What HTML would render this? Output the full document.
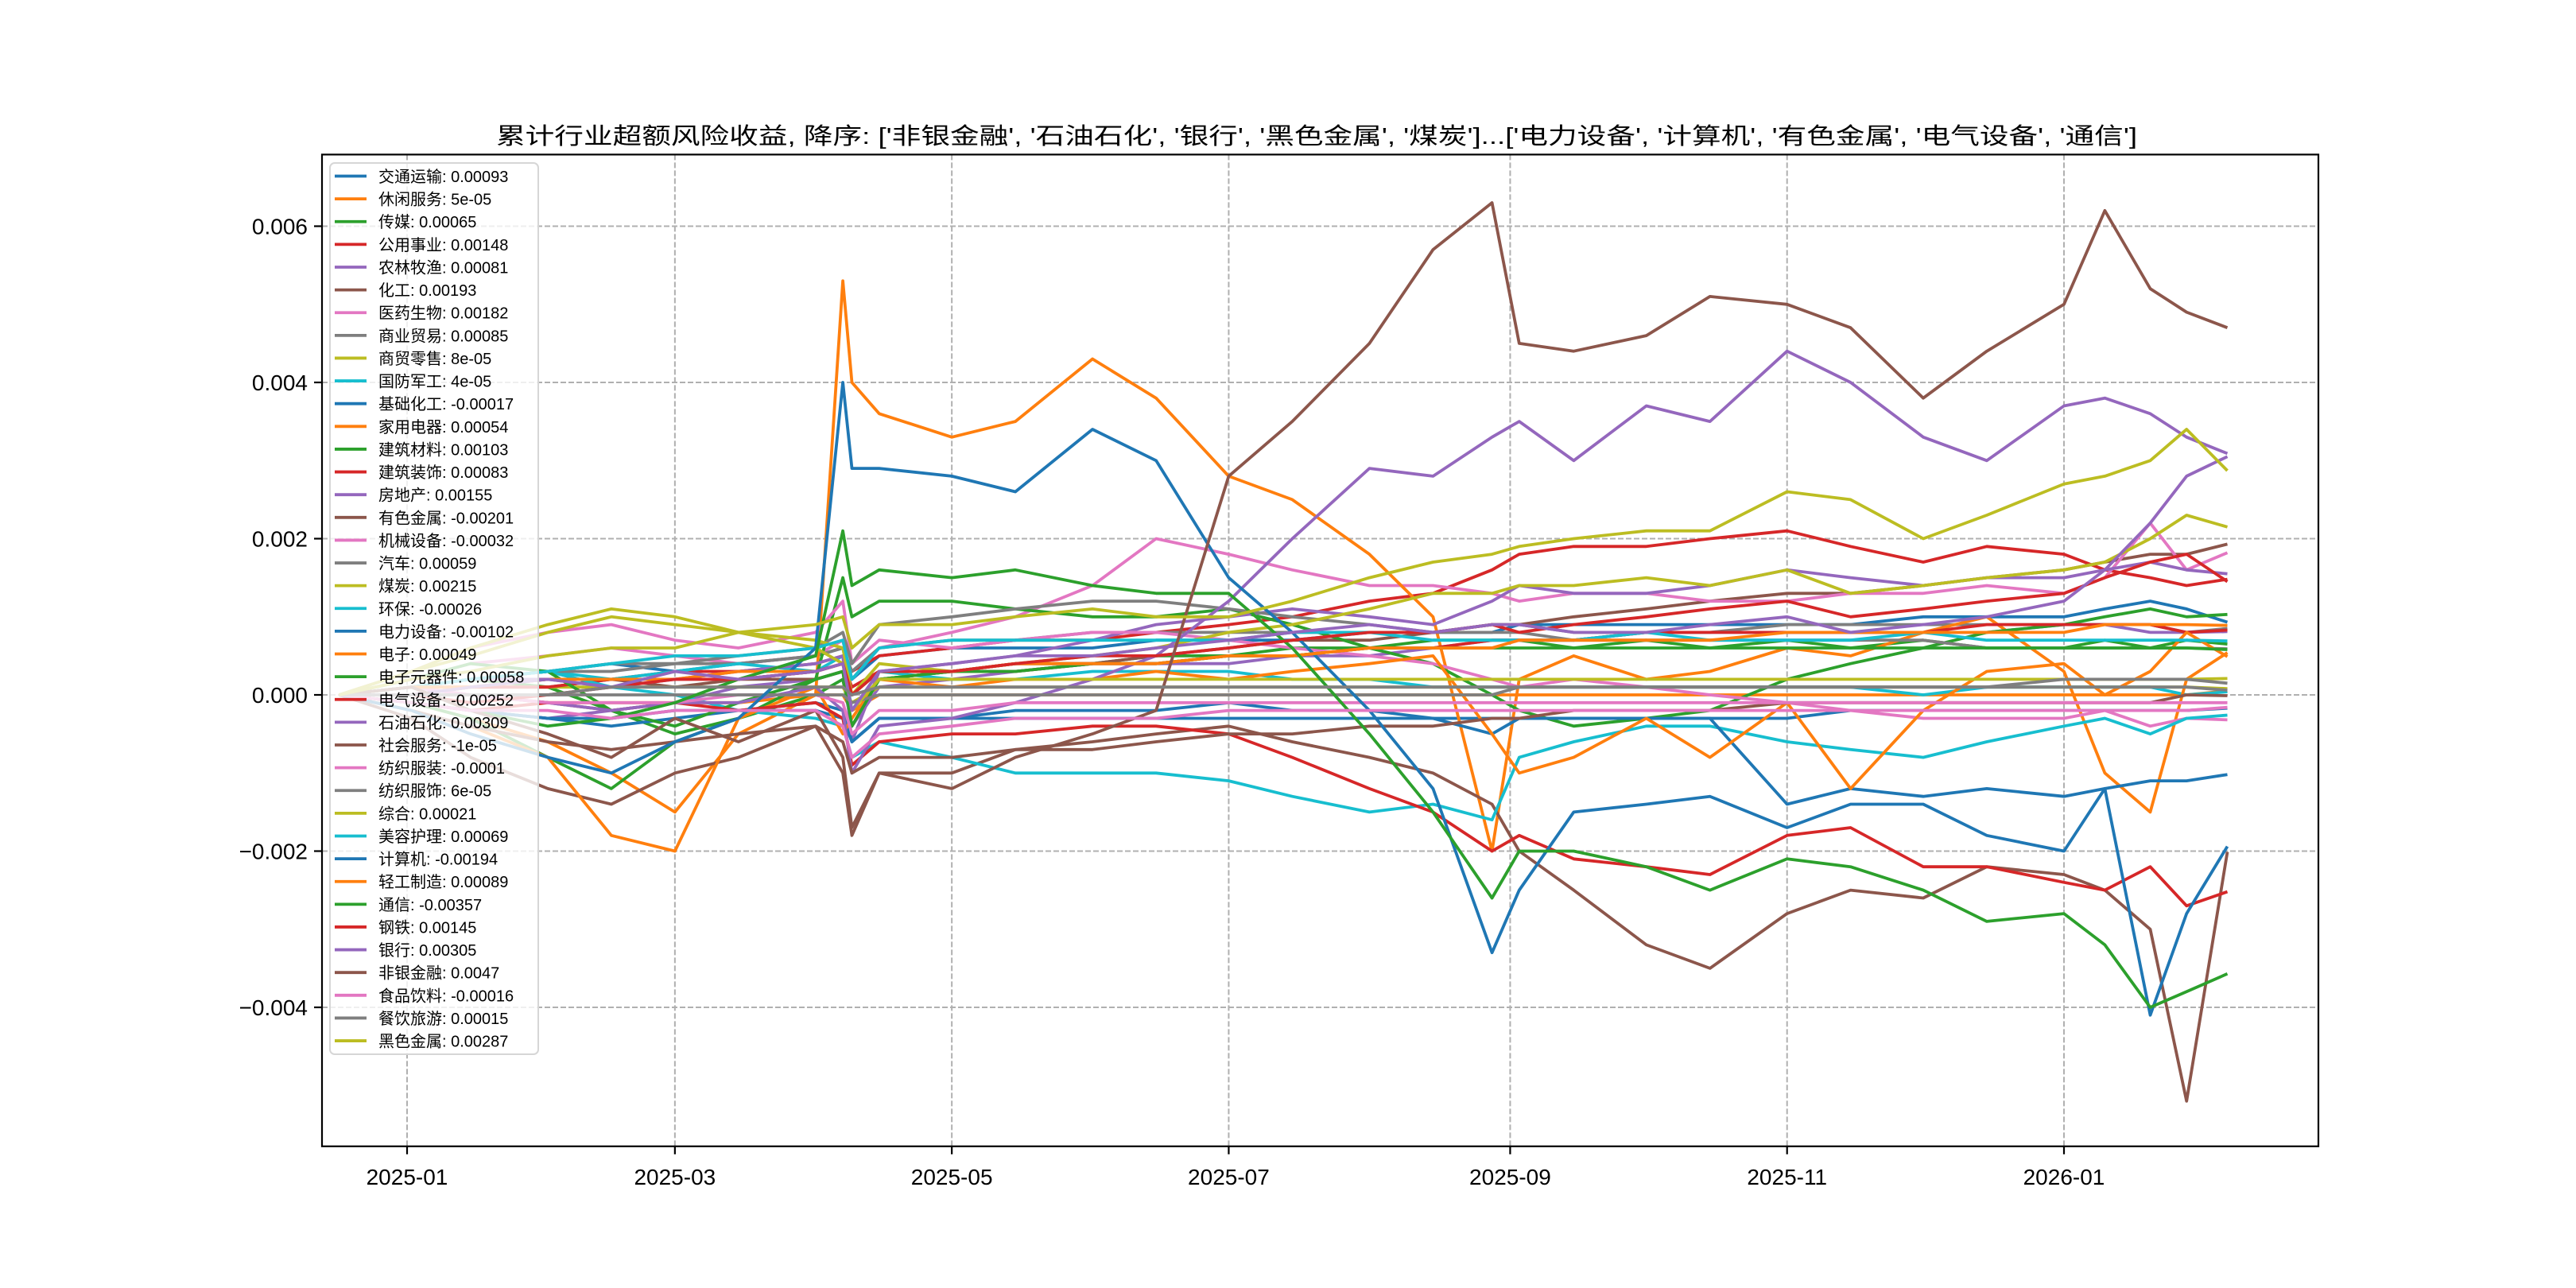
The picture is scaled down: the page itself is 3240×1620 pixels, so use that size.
<!DOCTYPE html>
<html><head><meta charset="utf-8"><style>
html,body{margin:0;padding:0;background:#fff;}
svg{display:block;}
text{font-family:"Liberation Sans","Noto Sans CJK SC","WenQuanYi Zen Hei",sans-serif;}
</style></head><body>
<svg id="chart" width="3240" height="1620" viewBox="0 0 3240 1620" xmlns="http://www.w3.org/2000/svg">
<rect x="0" y="0" width="3240" height="1620" fill="#fff"/>
<text x="1656" y="181" font-size="29" text-anchor="middle" textLength="2064" lengthAdjust="spacingAndGlyphs">累计行业超额风险收益,  降序: ['非银金融', '石油石化', '银行', '黑色金属', '煤炭']...['电力设备', '计算机', '有色金属', '电气设备', '通信']</text>
<g id="grid"></g>
<g id="plot"></g>
<g id="axes"></g>
<g id="legend"></g>
</svg>
<script>
const dates = ["2024-12-17","2025-01-02","2025-01-15","2025-02-01","2025-02-15","2025-03-01","2025-03-15","2025-04-01","2025-04-07","2025-04-09","2025-04-15","2025-05-01","2025-05-15","2025-06-01","2025-06-15","2025-07-01","2025-07-15","2025-08-01","2025-08-15","2025-08-28","2025-09-03","2025-09-15","2025-10-01","2025-10-15","2025-11-01","2025-11-15","2025-12-01","2025-12-15","2026-01-01","2026-01-10","2026-01-20","2026-01-28","2026-02-06"];
const names = ["交通运输","休闲服务","传媒","公用事业","农林牧渔","化工","医药生物","商业贸易","商贸零售","国防军工","基础化工","家用电器","建筑材料","建筑装饰","房地产","有色金属","机械设备","汽车","煤炭","环保","电力设备","电子","电子元器件","电气设备","石油石化","社会服务","纺织服装","纺织服饰","综合","美容护理","计算机","轻工制造","通信","钢铁","银行","非银金融","食品饮料","餐饮旅游","黑色金属"];
const legendValues = ["0.00093","5e-05","0.00065","0.00148","0.00081","0.00193","0.00182","0.00085","8e-05","4e-05","-0.00017","0.00054","0.00103","0.00083","0.00155","-0.00201","-0.00032","0.00059","0.00215","-0.00026","-0.00102","0.00049","0.00058","-0.00252","0.00309","-1e-05","-0.0001","6e-05","0.00021","0.00069","-0.00194","0.00089","-0.00357","0.00145","0.00305","0.0047","-0.00016","0.00015","0.00287"];
// values in units of 1e-4
const s00 = [0,1,2,3,4,3,4,5,6,2,5,6,6,6,7,7,7,8,8,8,9,9,9,9,9,9,10,10,10,11,12,11,9.3];
const s01 = [0,0,0,-1,-1,-1,-1,0,0,-2,0,0,0,0,0,0,0,0,0,0,0,0,0,0,0,0,0,0,0,0,0,0,0.5];
const s02 = [0,1,2,1,-2,-5,-3,0,2,-4,2,3,4,4,5,5,6,6,7,7,7,6,7,6,7,6,7,6,6,7,6,7,6.5];
const s03 = [0,1,1,2,2,3,3,4,5,3,5,6,7,7,8,9,10,12,13,16,18,19,19,20,21,19,17,19,18,16,15,14,14.8];
const s04 = [0,-1,-2,-3,-2,-1,1,2,3,-4,1,2,3,4,4,4,5,5,6,7,7,7,8,8,8,8,8,8,9,9,8,8,8.1];
const s05 = [0,0,1,1,2,1,2,2,3,-2,2,3,3,4,5,6,7,7,8,9,9,10,11,12,13,13,14,15,16,17,18,18,19.3];
const s06 = [0,2,4,5,6,5,4,5,7,2,6,8,10,14,20,18,16,14,14,13,12,13,13,12,12,13,13,14,13,15,22,16,18.2];
const s07 = [0,1,2,3,4,4,4,5,6,3,6,7,7,8,8,8,8,8,8,9,9,8,8,8,9,9,9,9,9,9,9,8,8.5];
const s08 = [0,0,1,1,1,1,1,1,1,-1,1,1,1,1,1,1,1,1,1,1,1,1,1,1,1,1,1,1,1,1,1,1,0.8];
const s09 = [0,1,2,3,2,3,4,3,5,-2,3,2,2,3,3,3,2,2,1,1,1,1,1,1,1,1,0,1,1,1,1,0,0.4];
const s10 = [0,-1,-2,-3,-3,-2,-2,-2,-3,-6,-3,-3,-3,-3,-3,-3,-3,-3,-3,-3,-3,-3,-3,-3,-3,-2,-2,-2,-2,-2,-2,-2,-1.7];
const s11 = [0,-1,-3,-6,-10,-15,-5,0,53,40,36,33,35,43,38,28,25,18,10,-20,2,5,2,3,6,5,8,10,3,-10,-15,2,5.4];
const s12 = [0,-1,-3,-8,-12,-6,-3,2,15,10,12,12,11,10,10,11,9,6,4,0,-2,-4,-3,-2,2,4,6,8,9,10,11,10,10.3];
const s13 = [0,0,1,1,2,2,2,3,4,1,3,3,4,4,4,5,5,6,6,7,7,7,8,8,8,8,8,9,9,9,9,8,8.3];
const s14 = [0,1,2,2,1,2,3,4,5,-6,3,4,5,7,9,10,11,10,9,12,14,13,13,14,16,15,14,15,15,16,17,16,15.5];
const s15 = [0,-3,-8,-12,-14,-10,-8,-4,-10,-18,-10,-10,-7,-6,-5,-4,-6,-8,-10,-14,-20,-25,-32,-35,-28,-25,-26,-22,-23,-25,-30,-52,-20.1];
const s16 = [0,3,6,8,9,7,6,8,12,4,7,6,7,8,8,7,6,5,4,2,1,2,1,0,-1,-2,-3,-3,-3,-2,-4,-3,-3.2];
const s17 = [0,1,2,3,3,4,5,6,8,4,9,10,11,12,12,11,10,9,8,8,8,7,7,7,7,7,7,6,6,6,6,6,5.9];
const s18 = [0,3,5,8,10,9,8,7,6,0,4,3,4,5,6,8,9,11,13,13,14,14,15,14,16,13,14,15,16,17,20,23,21.5];
const s19 = [0,1,2,3,1,0,-2,-3,-4,-8,-6,-8,-10,-10,-10,-11,-13,-15,-14,-16,-8,-6,-4,-4,-6,-7,-8,-6,-4,-3,-5,-3,-2.6];
const s20 = [0,-1,-2,-3,-4,-3,-2,-1,-2,-6,-3,-3,-2,-2,-2,-1,-2,-2,-3,-5,-3,-3,-3,-3,-14,-12,-13,-12,-13,-12,-11,-11,-10.2];
const s21 = [0,-2,-4,-8,-18,-20,-3,1,-5,-3,2,1,2,2,3,2,3,4,5,-5,-10,-8,-3,-8,-1,-12,-2,3,4,0,3,8,4.9];
const s22 = [0,2,4,3,-2,-4,-1,2,3,-4,2,3,3,4,4,5,5,6,6,6,6,6,6,6,6,6,6,6,6,6,6,6,5.8];
const s23 = [0,-1,-2,-1,-2,-1,-2,-1,-3,-9,-6,-5,-5,-4,-4,-5,-8,-12,-15,-20,-18,-21,-22,-23,-18,-17,-22,-22,-24,-25,-22,-27,-25.2];
const s24 = [0,1,0,-1,-2,-1,-1,1,-2,-10,-4,-3,-1,2,5,12,20,29,28,33,35,30,37,35,44,40,33,30,37,38,36,33,30.9];
const s25 = [0,-2,-4,-6,-7,-6,-5,-4,-6,-10,-8,-8,-7,-7,-6,-5,-5,-4,-4,-3,-3,-2,-2,-2,-1,-1,-1,-1,-1,-1,-1,0,-0.1];
const s26 = [0,1,0,-1,-1,-1,0,0,-1,-5,-2,-2,-1,-1,-1,-1,-1,-1,-1,-1,-1,-1,-1,-1,-1,-1,-1,-1,-1,-1,-1,-1,-1];
const s27 = [0,0,0,0,0,0,0,0,0,-1,0,0,0,0,0,0,0,0,0,0,1,1,1,1,1,1,1,1,1,1,1,1,0.6];
const s28 = [0,3,6,9,11,10,8,6,4,-2,2,2,2,2,2,2,2,2,2,2,2,2,2,2,2,2,2,2,2,2,2,2,2.1];
const s29 = [0,1,2,3,4,5,5,6,7,2,6,7,7,7,7,7,8,8,7,7,7,7,8,7,7,7,8,7,7,7,7,7,6.9];
const s30 = [0,-2,-5,-8,-10,-6,-3,6,40,29,29,28,26,34,30,15,8,-2,-12,-33,-25,-15,-14,-13,-17,-14,-14,-18,-20,-12,-41,-28,-19.4];
const s31 = [0,1,1,2,2,2,3,3,4,0,3,3,4,4,4,5,5,6,6,6,7,7,7,7,8,8,8,8,8,9,9,9,8.9];
const s32 = [0,1,-2,-4,-3,-1,2,5,21,14,16,15,16,14,13,13,6,-5,-15,-26,-20,-20,-22,-25,-21,-22,-25,-29,-28,-32,-40,-38,-35.7];
const s33 = [0,0,-1,0,1,2,2,3,4,0,3,3,4,5,5,6,7,8,8,9,8,9,10,11,12,10,11,12,13,15,17,18,14.5];
const s34 = [0,0,1,2,1,3,2,3,4,-2,3,4,5,5,6,7,8,9,8,9,9,8,8,9,10,8,9,10,12,16,22,28,30.5];
const s35 = [0,1,-2,-5,-8,-3,-6,-2,-8,-17,-10,-12,-8,-5,-2,28,35,45,57,63,45,44,46,51,50,47,38,44,50,62,52,49,47];
const s36 = [0,-1,-2,-2,-3,-2,-2,-2,-4,-8,-5,-4,-3,-3,-3,-2,-2,-2,-2,-2,-2,-2,-2,-2,-2,-2,-2,-2,-2,-2,-2,-2,-1.6];
const s37 = [0,0,0,0,1,1,1,1,1,0,1,1,1,1,1,1,1,1,1,1,1,1,1,1,1,1,1,1,2,2,2,2,1.5];
const s38 = [0,2,3,5,6,6,8,9,10,6,9,9,10,11,10,10,12,15,17,18,19,20,21,21,26,25,20,23,27,28,30,34,28.7];
const series = [s00,s01,s02,s03,s04,s05,s06,s07,s08,s09,s10,s11,s12,s13,s14,s15,s16,s17,s18,s19,s20,s21,s22,s23,s24,s25,s26,s27,s28,s29,s30,s31,s32,s33,s34,s35,s36,s37,s38];
const yTicks = [0.006,0.004,0.002,0.000,-0.002,-0.004];
const yTickLabels = ["0.006","0.004","0.002","0.000","\u22120.002","\u22120.004"];
const xTicks = ["2025-01-01","2025-03-01","2025-05-01","2025-07-01","2025-09-01","2025-11-01","2026-01-01"];
const xTickLabels = ["2025-01","2025-03","2025-05","2025-07","2025-09","2025-11","2026-01"];

const colors = ["#1f77b4","#ff7f0e","#2ca02c","#d62728","#9467bd","#8c564b","#e377c2","#7f7f7f","#bcbd22","#17becf"];
const NS = "http://www.w3.org/2000/svg";
const AX = {l:405, r:2916, t:194.4, b:1441.8};
const T0 = Date.UTC(2025,0,1), T1 = Date.UTC(2026,0,1);
function xScale(d){const t=Date.parse(d+"T00:00:00Z");return 512+(t-T0)/(T1-T0)*(2596-512);}
function yScale(v){return 874-v/0.001*98.25;}
function mk(tag,attrs,parent){const e=document.createElementNS(NS,tag);for(const k in attrs)e.setAttribute(k,attrs[k]);parent.appendChild(e);return e;}
const grid=document.getElementById('grid'),plot=document.getElementById('plot'),axes=document.getElementById('axes'),legend=document.getElementById('legend');

xTicks.forEach((d,i)=>{
  const x=xScale(d);
  const g=mk('line',{x1:x,x2:x,y1:AX.t,y2:AX.b,stroke:'#b0b0b0','stroke-width':2,'stroke-dasharray':'7,3'},grid);
  
  
  const tk=mk('line',{x1:x,x2:x,y1:AX.b,y2:AX.b+10,stroke:'#000','stroke-width':2.2},axes);
  
  
  const tx=mk('text',{x:x,y:AX.b+48,'font-size':28,'text-anchor':'middle'},axes);
  tx.textContent=xTickLabels[i];
  
  
});
yTicks.forEach((v,i)=>{
  const y=yScale(v);
  const g=mk('line',{x1:AX.l,x2:AX.r,y1:y,y2:y,stroke:'#b0b0b0','stroke-width':2,'stroke-dasharray':'7,3'},grid);
  
  
  const tk=mk('line',{x1:AX.l-10,x2:AX.l,y1:y,y2:y,stroke:'#000','stroke-width':2.2},axes);
  
  
  const tx=mk('text',{x:AX.l-18,y:y+10,'font-size':28,'text-anchor':'end'},axes);
  tx.textContent=yTickLabels[i];
  
  
});
series.forEach((arr,i)=>{
  const pts=arr.map((v,j)=>xScale(dates[j]).toFixed(1)+','+yScale(v*1e-4).toFixed(1)).join(' ');
  const p=mk('polyline',{points:pts,fill:'none',stroke:colors[i%10],'stroke-width':3.8,'stroke-linejoin':'round'},plot);
  
  
});
const frame=mk('rect',{x:AX.l,y:AX.t,width:AX.r-AX.l,height:AX.b-AX.t,fill:'none',stroke:'#000','stroke-width':2.2},axes);



const lb=mk('rect',{x:415,y:205,width:262,height:1121,rx:6,fill:'#fff','fill-opacity':0.8,stroke:'#d6d6d6','stroke-width':2},legend);


names.forEach((n,i)=>{
  const y=221.5+i*28.62;
  const g=mk('g',{},legend);
  
  
  mk('line',{x1:421,x2:461,y1:y,y2:y,stroke:colors[i%10],'stroke-width':3.8},g);
  const t=mk('text',{x:476,y:y+7.5,'font-size':20},g);
  t.textContent=n+': '+legendValues[i];
});
</script>
</body></html>
